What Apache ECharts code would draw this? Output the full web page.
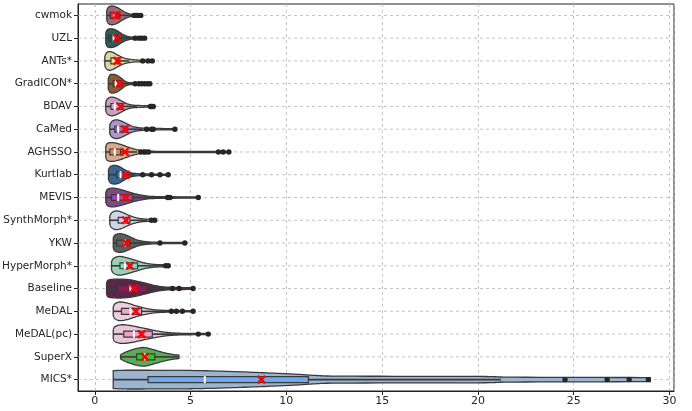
<!DOCTYPE html>
<html><head><meta charset="utf-8">
<script src="https://cdn.jsdelivr.net/npm/echarts@6/dist/echarts.min.js"></script>
<style>html,body{margin:0;padding:0;background:#fff}#c{width:692px;height:411px}</style>
</head><body><div id="c"></div>
<script>
const categories = ['cwmok','UZL','ANTs*','GradICON*','BDAV','CaMed','AGHSSO','Kurtlab','MEVIS','SynthMorph*','YKW','HyperMorph*','Baseline','MeDAL','MeDAL(pc)','SuperX','MICS*'];

// [lower whisker, q1, median, q3, upper whisker]
const boxStats = [
  [0.62,0.80,1.02,1.30,1.95],
  [0.57,0.72,0.98,1.18,1.90],
  [0.52,0.84,1.04,1.22,1.80],
  [0.70,0.96,1.10,1.45,2.00],
  [0.57,0.84,1.04,1.39,2.20],
  [0.78,1.04,1.22,1.65,2.50],
  [0.57,0.78,1.04,1.34,2.20],
  [0.71,1.13,1.34,1.51,2.10],
  [0.57,0.87,1.22,1.97,3.60],
  [0.78,1.22,1.51,1.83,2.75],
  [0.96,1.13,1.57,1.83,2.90],
  [0.87,1.31,1.57,2.23,3.60],
  [0.61,1.22,1.86,2.70,4.00],
  [0.96,1.39,1.86,2.44,3.90],
  [0.96,1.51,2.04,3.00,5.20],
  [1.34,2.18,2.60,3.13,4.39],
  [0.96,2.78,5.74,11.15,21.2]
];

const means = [1.13,1.16,1.17,1.30,1.34,1.57,1.57,1.62,1.62,1.62,1.65,1.83,2.04,2.14,2.44,2.61,8.70];

const outliers = [
  [2.05,2.15,2.25,2.40],
  [2.10,2.30,2.45,2.60],
  [2.50,2.78,3.00],
  [2.10,2.30,2.45,2.60,2.75,2.87],
  [2.90,2.96,3.05],
  [2.70,2.96,3.05,4.18],
  [2.40,2.55,2.65,2.80,6.45,6.70,7.00],
  [2.50,2.96,3.40,3.83],
  [3.80,3.92,5.40],
  [2.95,3.13],
  [3.40,4.70],
  [3.70,3.83],
  [4.05,4.40,5.13],
  [4.00,4.26,4.57,5.13],
  [5.40,5.92],
  [],
  [24.55,26.75,27.90,28.90]
];

// relative density profile: [value, density 0..1]
const densityProfiles = [
  [[0.62,0.5],[0.70,0.85],[0.85,1],[1.05,0.95],[1.25,0.75],[1.5,0.42],[1.75,0.2],[2.0,0.1],[2.4,0.07]],
  [[0.57,0.55],[0.65,0.9],[0.8,1],[1.0,0.95],[1.2,0.75],[1.45,0.42],[1.7,0.2],[2.0,0.1],[2.6,0.07]],
  [[0.52,0.5],[0.6,0.85],[0.75,1],[0.95,0.9],[1.2,0.62],[1.5,0.33],[1.8,0.18],[2.2,0.1],[3.0,0.07]],
  [[0.70,0.55],[0.8,0.95],[0.95,1],[1.15,0.9],[1.4,0.55],[1.6,0.25],[1.9,0.1],[2.87,0.07]],
  [[0.57,0.45],[0.65,0.8],[0.85,1],[1.1,0.9],[1.4,0.58],[1.7,0.28],[2.0,0.14],[2.5,0.09],[3.05,0.07]],
  [[0.78,0.5],[0.9,0.85],[1.1,1],[1.35,0.9],[1.7,0.55],[2.0,0.28],[2.4,0.14],[3.0,0.09],[4.18,0.06]],
  [[0.57,0.6],[0.65,0.9],[0.85,1],[1.1,0.95],[1.5,0.7],[1.9,0.4],[2.3,0.2],[2.7,0.1],[3.5,0.07],[7.0,0.06]],
  [[0.71,0.5],[0.8,0.85],[1.0,1],[1.25,0.9],[1.55,0.55],[1.85,0.25],[2.2,0.12],[2.8,0.08],[3.83,0.07]],
  [[0.57,0.5],[0.65,0.85],[0.85,1],[1.15,0.95],[1.6,0.7],[2.1,0.4],[2.6,0.2],[3.2,0.1],[5.4,0.06]],
  [[0.78,0.45],[0.88,0.8],[1.1,1],[1.4,0.88],[1.75,0.55],[2.1,0.3],[2.5,0.15],[3.13,0.1]],
  [[0.96,0.5],[1.05,0.85],[1.3,1],[1.6,0.88],[1.95,0.55],[2.3,0.28],[2.8,0.12],[3.5,0.07],[4.7,0.06]],
  [[0.87,0.45],[0.98,0.8],[1.25,1],[1.6,0.9],[2.1,0.6],[2.6,0.3],[3.1,0.15],[3.83,0.1]],
  [[0.61,0.6],[0.7,0.9],[1.0,1],[1.5,1],[2.0,0.88],[2.6,0.6],[3.2,0.3],[3.8,0.15],[5.13,0.08]],
  [[0.96,0.45],[1.05,0.8],[1.3,1],[1.7,0.88],[2.2,0.55],[2.7,0.3],[3.2,0.15],[4.0,0.08],[5.13,0.06]],
  [[0.96,0.45],[1.05,0.8],[1.4,1],[1.9,0.9],[2.6,0.6],[3.2,0.35],[3.8,0.17],[4.6,0.08],[5.92,0.06]],
  [[1.34,0.2],[1.6,0.5],[2.1,0.85],[2.55,1],[3.0,0.8],[3.6,0.45],[4.1,0.25],[4.39,0.18]],
  [[0.96,0.95],[1.5,1],[3,1],[5,0.98],[7,0.88],[9,0.72],[10.5,0.58],[11.5,0.45],[13,0.37],[20,0.34],[22,0.26],[29,0.22]]
];

// palette (style)
const violinColors = ['#a3677a','#2d5d58','#d9d6a1','#8a5a38','#c9a0c0','#ab95cc','#d5ab90','#3a6693','#7d4a82','#cbd6e6','#5b605e','#9ecfb6','#582646','#ebd0dc','#e8c8d8','#5bab5b','#9bb5d1'];
const boxColors = ['#c8384e','#1f4f4a','#ece27a','#b07a40','#dba0d2','#9070c0','#e08850','#2f6db0','#b040b0','#b8d0f0','#5a6060','#70e0c0','#8e1a58','#f0a8c8','#f0a0c8','#22d022','#70aaea'];

function spline(pts, steps) {
  const out = [];
  for (let i = 0; i < pts.length - 1; i++) {
    const p0 = pts[Math.max(i - 1, 0)], p1 = pts[i], p2 = pts[i + 1], p3 = pts[Math.min(i + 2, pts.length - 1)];
    for (let s = 0; s < steps; s++) {
      const t = s / steps, t2 = t * t, t3 = t2 * t;
      const f = (a, b, c, d) => 0.5 * ((2 * b) + (-a + c) * t + (2 * a - 5 * b + 4 * c - d) * t2 + (-a + 3 * b - 3 * c + d) * t3);
      out.push([f(p0[0], p1[0], p2[0], p3[0]), f(p0[1], p1[1], p2[1], p3[1])]);
    }
  }
  out.push(pts[pts.length - 1]);
  return out;
}

const edge = '#3a3a3a';

function renderItem(params, api) {
  const i = params.dataIndex;
  const cs = params.coordSys;
  const band = api.size([0, 1])[1];
  const yc = api.coord([0, i])[1];
  const hw = band * 0.41;
  const X = v => api.coord([v, i])[0];
  const pts = densityProfiles[i].map(([v, d]) => [X(v), d]);
  const sm = spline(pts, 10);
  const top = sm.map(([x, d]) => [x, yc - Math.max(d, 0.03) * hw]);
  const bot = sm.map(([x, d]) => [x, yc + Math.max(d, 0.03) * hw]).reverse();
  const [lo, q1, med, q3, hi] = boxStats[i];
  const bh = band * 0.13;
  const children = [
    { type: 'line', silent: true, shape: { x1: cs.x, y1: yc, x2: cs.x + cs.width, y2: yc }, style: { stroke: '#b4b4b4', lineWidth: 0.8, lineDash: [3, 3] } },
    { type: 'polygon', shape: { points: top.concat(bot) }, style: { fill: violinColors[i], stroke: edge, lineWidth: 1.3 } },
    { type: 'line', shape: { x1: X(lo), y1: yc, x2: X(q1), y2: yc }, style: { stroke: edge, lineWidth: 1.6 } },
    { type: 'line', shape: { x1: X(q3), y1: yc, x2: X(hi), y2: yc }, style: { stroke: edge, lineWidth: 1.6 } },
    { type: 'rect', shape: { x: X(q1), y: yc - bh, width: X(q3) - X(q1), height: 2 * bh }, style: { fill: boxColors[i], stroke: edge, lineWidth: 1.2 } },
    { type: 'line', shape: { x1: X(med), y1: yc - bh * 1.2, x2: X(med), y2: yc + bh * 1.2 }, style: { stroke: '#ffffff', lineWidth: 2 } }
  ];
  outliers[i].forEach(v => {
    children.push({ type: 'circle', shape: { cx: X(v), cy: yc, r: 2.7 }, style: { fill: '#262626' } });
  });
  const mx = X(means[i]), s = 3.7;
  children.push({ type: 'line', shape: { x1: mx - s, y1: yc - s, x2: mx + s, y2: yc + s }, style: { stroke: '#ff0000', lineWidth: 2.4 } });
  children.push({ type: 'line', shape: { x1: mx - s, y1: yc + s, x2: mx + s, y2: yc - s }, style: { stroke: '#ff0000', lineWidth: 2.4 } });
  return { type: 'group', children };
}

const chart = echarts.init(document.getElementById('c'), null, { renderer: 'canvas' });
chart.setOption({
  animation: false,
  backgroundColor: '#ffffff',
  grid: { left: 78, right: 18, top: 4, bottom: 20, containLabel: false, outerBoundsMode: 'none', show: true, borderColor: '#222', borderWidth: 1, backgroundColor: 'transparent' },
  xAxis: {
    type: 'value', min: -0.88, max: 30.24, splitNumber: 6,
    axisLine: { show: true, onZero: false, lineStyle: { color: '#222', width: 1 } },
    axisTick: { show: true, length: 4, lineStyle: { color: '#222' } },
    axisLabel: { color: '#262626', fontSize: 11, fontFamily: 'DejaVu Sans', margin: 5, showMinLabel: false, showMaxLabel: false },
    splitLine: { show: true, lineStyle: { color: '#b4b4b4', type: [3, 3], width: 0.8 } }
  },
  yAxis: {
    type: 'category', inverse: true, data: categories,
    axisLine: { show: true, onZero: false, lineStyle: { color: '#222', width: 1 } },
    axisTick: { show: true, alignWithLabel: true, length: 4, lineStyle: { color: '#222' } },
    axisLabel: { color: '#262626', fontSize: 10.5, fontFamily: 'DejaVu Sans', margin: 6 },
    splitLine: { show: false }
  },
  series: [{
    type: 'custom',
    renderItem,
    encode: { x: 0, y: 1 },
    data: categories.map((c, i) => [0, i]),
    clip: true
  }]
});
</script></body></html>
